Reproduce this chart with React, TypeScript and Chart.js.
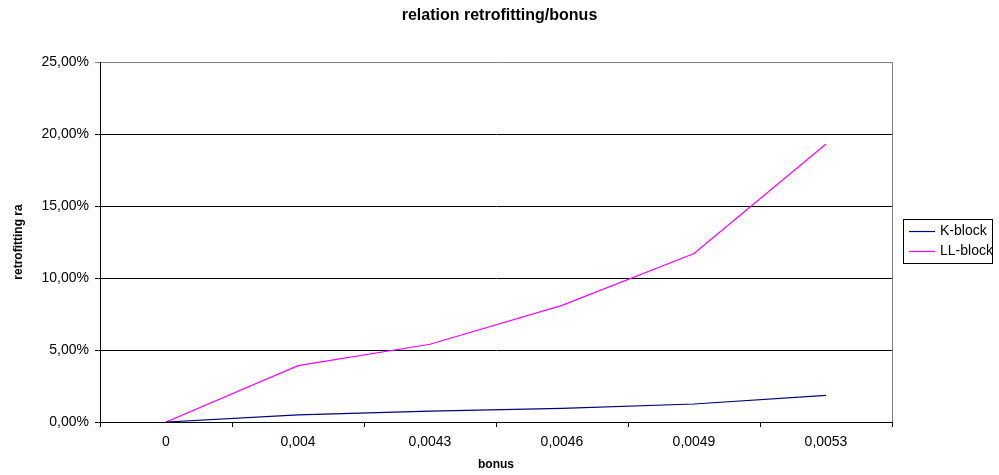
import React, { useEffect, useRef } from "react";
import { Chart, registerables } from "chart.js";

Chart.register(...registerables);

const categories = ["0", "0,004", "0,0043", "0,0046", "0,0049", "0,0053"];
const kBlock = [0, 0.49, 0.76, 0.95, 1.25, 1.85];
const llBlock = [0, 3.91, 5.4, 8.1, 11.7, 19.3];
const seriesNames = ["K-block", "LL-block"];
const chartTitle = "relation retrofitting/bonus";
const yMin = 0;
const yMax = 25;
const yStep = 5;

const FONT = "'Liberation Sans', Arial, sans-serif";

const frameAndLegend = {
  id: "frameAndLegend",
  afterDraw(chart: any) {
    const { ctx, chartArea } = chart;
    ctx.save();
    // title centred over the whole picture
    ctx.fillStyle = "#000";
    ctx.font = `bold 16px ${FONT}`;
    ctx.textAlign = "center";
    ctx.textBaseline = "middle";
    ctx.fillText(chartTitle, chart.width / 2, 16);

    // right frame line
    ctx.strokeStyle = "#808080";
    ctx.lineWidth = 1;
    ctx.beginPath();
    const rx = Math.round(chartArea.right) + 0.5;
    ctx.moveTo(rx, Math.round(chartArea.top));
    ctx.lineTo(rx, Math.round(chartArea.bottom));
    ctx.stroke();

    // legend
    const lx = 903.5;
    const ly = 219.5;
    const lw = 89;
    const lh = 44;
    ctx.fillStyle = "#fff";
    ctx.fillRect(lx, ly, lw, lh);
    ctx.strokeStyle = "#000";
    ctx.strokeRect(lx, ly, lw, lh);
    ctx.font = `14px ${FONT}`;
    ctx.textBaseline = "middle";
    ctx.textAlign = "left";
    chart.data.datasets.forEach((ds: any, i: number) => {
      const y = 231.5 + i * 20;
      ctx.strokeStyle = ds.borderColor;
      ctx.lineWidth = 1.2;
      ctx.beginPath();
      ctx.moveTo(909, y);
      ctx.lineTo(935, y);
      ctx.stroke();
      ctx.fillStyle = "#000";
      ctx.fillText(ds.label, 940, y);
    });
    ctx.restore();
  },
};

export default function App() {
  const ref = useRef<HTMLCanvasElement>(null);

  useEffect(() => {
    if (!ref.current) return;
    const chart = new Chart(ref.current, {
      type: "line",
      data: {
        labels: categories,
        datasets: [
          {
            label: seriesNames[0],
            data: kBlock,
            borderColor: "#000080",
            backgroundColor: "#000080",
            borderWidth: 1.2,
            pointRadius: 0,
            tension: 0,
          },
          {
            label: seriesNames[1],
            data: llBlock,
            borderColor: "#FF00FF",
            backgroundColor: "#FF00FF",
            borderWidth: 1.2,
            pointRadius: 0,
            tension: 0,
          },
        ],
      },
      options: {
        responsive: false,
        animation: false,
        layout: { padding: { left: 0, right: 107, top: 62, bottom: 0 } },
        plugins: {
          legend: { display: false },
          tooltip: { enabled: false },
          title: { display: false },
        },
        scales: {
          x: {
            type: "category",
            offset: true,
            afterFit: (s: any) => {
              s.height = 53;
            },
            grid: {
              offset: true,
              drawOnChartArea: false,
              drawTicks: true,
              tickLength: 5,
              color: "#000",
            },
            border: { display: true, color: "#000", width: 1 },
            ticks: {
              color: "#000",
              font: { family: FONT, size: 14 },
              padding: 7,
              maxRotation: 0,
              autoSkip: false,
            },
            title: {
              display: true,
              text: "bonus",
              color: "#000",
              font: { family: FONT, size: 12, weight: "bold" },
              padding: { top: 0, bottom: 2.8 },
            },
          },
          y: {
            min: yMin,
            max: yMax,
            afterFit: (s: any) => {
              s.width = 100;
            },
            grid: {
              color: (c: any) => (c.tick && c.tick.value === yMax ? "#808080" : "#000"),
              tickLength: 5,
              drawTicks: true,
            },
            border: { display: true, color: "#000", width: 1 },
            ticks: {
              stepSize: yStep,
              color: "#000",
              font: { family: FONT, size: 14 },
              padding: 6,
              callback: (v: any) => Number(v).toFixed(2).replace(".", ",") + "%",
            },
            title: {
              display: true,
              text: "retrofitting ra",
              color: "#000",
              font: { family: FONT, size: 12, weight: "bold" },
              padding: { top: 11.8, bottom: 0 },
            },
          },
        },
      },
      plugins: [frameAndLegend],
    });
    return () => chart.destroy();
  }, []);

  return (
    <div style={{ position: "absolute", left: 0, top: 0, width: 999, height: 475, background: "#fff" }}>
      <canvas ref={ref} width={999} height={475} style={{ display: "block" }} />
    </div>
  );
}
